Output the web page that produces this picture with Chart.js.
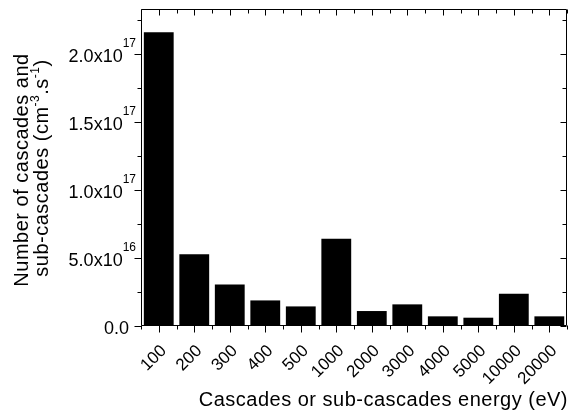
<!DOCTYPE html>
<html>
<head>
<meta charset="utf-8">
<script src="https://cdn.jsdelivr.net/npm/chart.js@4.4.1/dist/chart.umd.min.js"></script>
<style>
  html, body { margin: 0; padding: 0; background: #fff; }
</style>
</head>
<body>
<canvas id="chart" width="579" height="411"></canvas>
<script>
// data
const energies = ['100', '200', '300', '400', '500', '1000', '2000', '3000', '4000', '5000', '10000', '20000'];
const cascadeCounts = [2.16e17, 5.27e16, 3.05e16, 1.88e16, 1.44e16, 6.42e16, 1.10e16, 1.59e16, 0.71e16, 0.61e16, 2.37e16, 0.71e16];
const yMax = 2.33e17;
const yMajorValues = [0, 5e16, 1e17, 1.5e17, 2e17];
const yMajorBase = ['0.0', '5.0x10', '1.0x10', '1.5x10', '2.0x10'];
const yMajorExp = ['', '16', '17', '17', '17'];
const yMinorValues = [2.5e16, 7.5e16, 1.25e17, 1.75e17, 2.25e17];

const FONT = '"Liberation Sans", Arial, sans-serif';

// frame, mirrored ticks, y labels and titles (Origin style)
const originAxes = {
  id: 'originAxes',
  afterDraw(chart) {
    const ctx = chart.ctx;
    const a = chart.chartArea;
    const x = chart.scales.x;
    const y = chart.scales.y;
    const L = Math.round(a.left) + 0.5, R = Math.round(a.right) - 0.5;
    const T = Math.round(a.top) + 0.5, B = Math.round(a.bottom) - 0.5;
    ctx.save();
    ctx.strokeStyle = '#000';
    ctx.lineWidth = 1;
    ctx.beginPath();
    ctx.rect(L, T, R - L, B - T);

    // y ticks: outward on left, inward on right
    yMajorValues.forEach(v => {
      const py = Math.round(y.getPixelForValue(v)) + 0.5;
      ctx.moveTo(L - 7, py); ctx.lineTo(L, py);
      ctx.moveTo(R, py); ctx.lineTo(R - 6, py);
    });
    yMinorValues.forEach(v => {
      const py = Math.round(y.getPixelForValue(v)) + 0.5;
      ctx.moveTo(L - 4, py); ctx.lineTo(L, py);
      ctx.moveTo(R, py); ctx.lineTo(R - 4, py);
    });
    // x ticks: outward on bottom, inward on top
    for (let i = 0; i < energies.length; i++) {
      const px = Math.round(x.getPixelForValue(i)) + 0.5;
      ctx.moveTo(px, B); ctx.lineTo(px, B + 7);
      ctx.moveTo(px, T); ctx.lineTo(px, T + 6);
    }
    for (let i = 0; i <= energies.length; i++) {
      const px = Math.round(x.getPixelForValue(i - 0.5)) + 0.5;
      ctx.moveTo(px, B); ctx.lineTo(px, B + 4);
      ctx.moveTo(px, T); ctx.lineTo(px, T + 4);
    }
    ctx.stroke();

    // y tick labels with exponents
    ctx.fillStyle = '#000';
    ctx.textBaseline = 'alphabetic';
    yMajorValues.forEach((v, i) => {
      const py = y.getPixelForValue(v);
      if (!yMajorExp[i]) {
        ctx.font = '18px ' + FONT;
        ctx.textAlign = 'right';
        ctx.fillText(yMajorBase[i], 129, py + 8);
        return;
      }
      ctx.font = '12px ' + FONT;
      const supW = ctx.measureText(yMajorExp[i]).width;
      const sx = 136 - supW;
      ctx.textAlign = 'left';
      ctx.fillText(yMajorExp[i], sx, py - 7);
      ctx.font = '18px ' + FONT;
      ctx.textAlign = 'right';
      ctx.fillText(yMajorBase[i], sx, py + 8);
    });

    // titles are set a bit loose in the original
    ctx.letterSpacing = '0.5px';

    // y title, two lines, rotated
    const drawRuns = (runs, cx, baseX) => {
      ctx.save();
      ctx.translate(baseX, cx);
      ctx.rotate(-Math.PI / 2);
      ctx.textAlign = 'left';
      let total = 0;
      runs.forEach(r => {
        ctx.font = (r.sup ? '12px ' : '20px ') + FONT;
        total += ctx.measureText(r.t).width;
      });
      let pos = -total / 2;
      runs.forEach(r => {
        ctx.font = (r.sup ? '12px ' : '20px ') + FONT;
        ctx.fillText(r.t, pos, r.sup ? -9 : 0);
        pos += ctx.measureText(r.t).width;
      });
      ctx.restore();
    };
    drawRuns([{ t: 'Number of cascades and' }], 170, 28);
    drawRuns([
      { t: 'sub-cascades (cm' }, { t: '-3', sup: true },
      { t: '.s' }, { t: '-1', sup: true }, { t: ')' }
    ], 168, 48);

    // x title
    ctx.font = '20px ' + FONT;
    ctx.textAlign = 'right';
    ctx.fillText('Cascades or sub-cascades energy (eV)', 568, 406);
    ctx.restore();
  }
};

new Chart(document.getElementById('chart'), {
  type: 'bar',
  data: {
    labels: energies,
    datasets: [{
      label: 'Cascades',
      data: cascadeCounts,
      backgroundColor: '#000',
      borderWidth: 0,
      barPercentage: 0.84,
      categoryPercentage: 1.0
    }]
  },
  options: {
    responsive: false,
    animation: false,
    devicePixelRatio: 1,
    layout: { padding: { top: 9, right: 6, left: 0, bottom: 0 } },
    plugins: {
      legend: { display: false },
      tooltip: { enabled: false }
    },
    scales: {
      x: {
        grid: { display: false, drawTicks: false },
        border: { display: false },
        ticks: {
          color: '#000',
          font: { family: FONT, size: 17 },
          minRotation: 45,
          maxRotation: 45,
          autoSkip: false,
          padding: 15,
          labelOffset: 5
        },
        afterFit(scale) { scale.height = 85; }
      },
      y: {
        min: 0,
        max: yMax,
        grid: { display: false, drawTicks: false },
        border: { display: false },
        ticks: { display: false },
        afterFit(scale) { scale.width = 141; }
      }
    }
  },
  plugins: [originAxes]
});
</script>
</body>
</html>
